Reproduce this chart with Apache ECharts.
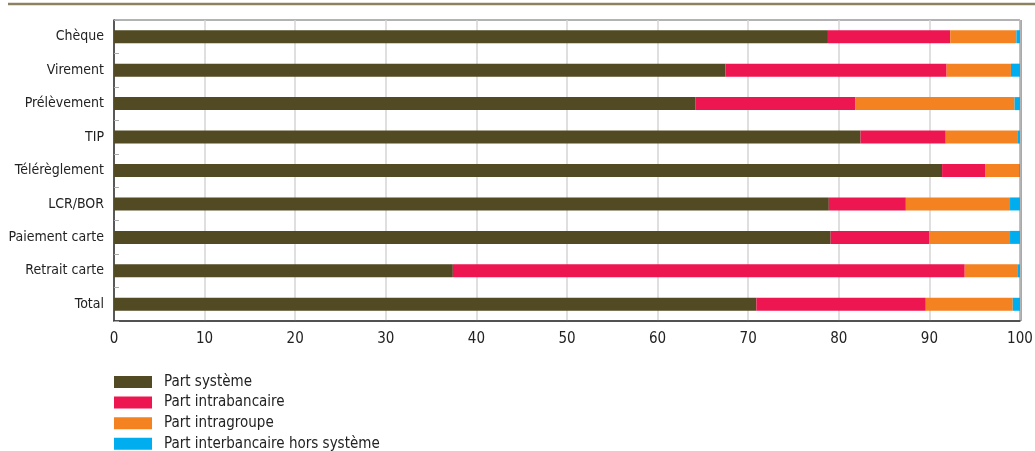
<!DOCTYPE html>
<html>
<head>
<meta charset="utf-8">
<script src="https://cdn.jsdelivr.net/npm/echarts@6/dist/echarts.min.js"></script>
<style>
  html, body { margin: 0; padding: 0; background: #fff; }
  #chart { width: 1035px; height: 451px; }
</style>
</head>
<body>
<div id="chart"></div>
<script>
// Répartition des opérations par canal d'échange (en %)
const categories = ['Chèque', 'Virement', 'Prélèvement', 'TIP', 'Télérèglement',
  'LCR/BOR', 'Paiement carte', 'Retrait carte', 'Total'];

const partSysteme        = [78.8, 67.5, 64.2, 82.4, 91.4, 78.9, 79.1, 37.4, 70.9];
const partIntrabancaire  = [13.5, 24.4, 17.6,  9.4,  4.8,  8.5, 10.9, 56.5, 18.7];
const partIntragroupe    = [ 7.3,  7.1, 17.6,  7.9,  3.7, 11.5,  8.9,  5.8,  9.6];
const partInterbancaire  = [ 0.4,  1.0,  0.6,  0.3,  0.1,  1.1,  1.1,  0.3,  0.8];

const seriesNames = ['Part système', 'Part intrabancaire', 'Part intragroupe',
  'Part interbancaire hors système'];
const seriesColors = ['#524a23', '#ed1651', '#f58220', '#00aeef'];
const seriesValues = [partSysteme, partIntrabancaire, partIntragroupe, partInterbancaire];

const xTicks = [0, 10, 20, 30, 40, 50, 60, 70, 80, 90, 100];

const FONT = '"Liberation Sans Narrow", "DejaVu Sans Condensed", sans-serif';

const chart = echarts.init(document.getElementById('chart'), null, { renderer: 'canvas' });

chart.setOption({
  animation: false,
  textStyle: { fontFamily: FONT },
  grid: { left: 114, right: 15, top: 20, bottom: 130, show: true,
          borderColor: '#666', borderWidth: 1,
          containLabel: false, outerBoundsMode: 'none' },
  legend: {
    orient: 'vertical',
    left: 114, top: 374.5, height: 120,
    padding: 0,
    itemWidth: 38, itemHeight: 12, itemGap: 5.6,
    icon: 'rect',
    data: seriesNames,
    selectedMode: false,
    textStyle: { fontFamily: FONT, fontSize: 15, color: '#222', lineHeight: 12,
                 padding: [0, 0, 0, 7] }
  },
  xAxis: {
    type: 'value',
    min: xTicks[0], max: xTicks[xTicks.length - 1], interval: 10,
    axisLine: { show: true, lineStyle: { color: '#333', width: 1.5 } },
    axisTick: { show: false },
    axisLabel: { fontFamily: FONT, fontSize: 15, color: '#222', margin: 11 },
    splitLine: { show: true, lineStyle: { color: '#d4d4d4', width: 1.5 } }
  },
  yAxis: {
    type: 'category',
    inverse: true,
    data: categories,
    axisLine: { show: true, lineStyle: { color: '#333', width: 1.5 } },
    axisTick: { show: true, inside: true, length: 5, lineStyle: { color: '#aaa' } },
    axisLabel: { fontFamily: FONT, fontSize: 14, color: '#222', margin: 10 }
  },
  graphic: [
    { type: 'line', shape: { x1: 8, y1: 4, x2: 1035, y2: 4 },
      style: { stroke: '#8c8262', lineWidth: 2.5 } },
    { type: 'line', shape: { x1: 1020.5, y1: 20, x2: 1020.5, y2: 321 },
      style: { stroke: '#555', lineWidth: 2 } }
  ],
  series: seriesNames.map((name, i) => ({
    name,
    type: 'bar',
    stack: 'total',
    barWidth: 13,
    data: seriesValues[i],
    itemStyle: { color: seriesColors[i] }
  }))
});
</script>
</body>
</html>
